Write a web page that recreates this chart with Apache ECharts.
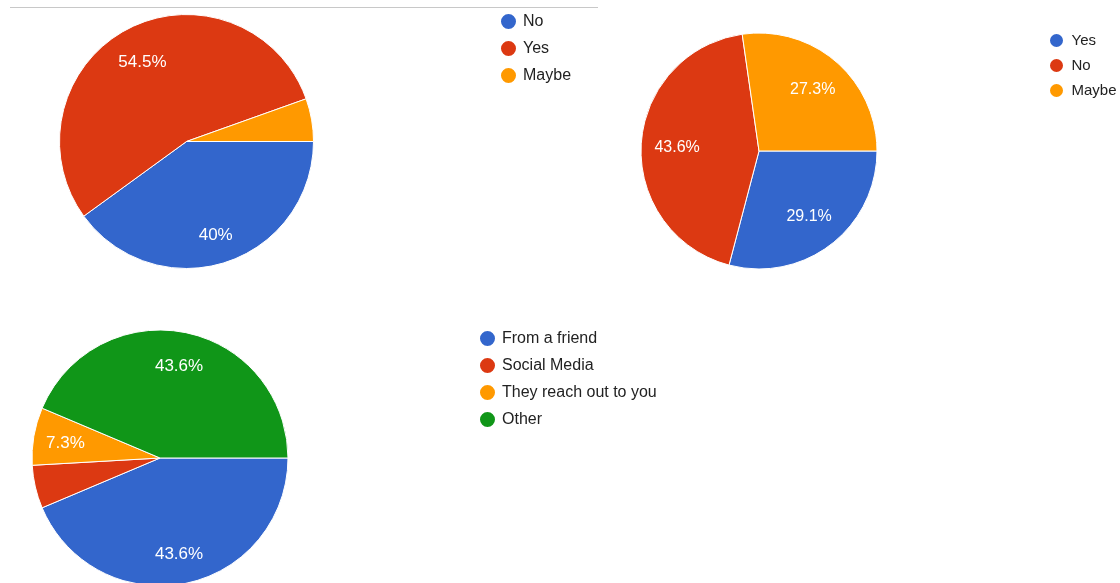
<!DOCTYPE html>
<html>
<head>
<meta charset="utf-8">
<title>Survey responses</title>
<script src="https://cdn.jsdelivr.net/npm/echarts@6/dist/echarts.min.js"></script>
<style>
  html, body { margin: 0; padding: 0; background: #fff; }
  #chart { width: 1120px; height: 583px; }
</style>
</head>
<body>
<div id="chart"></div>
<script>
// Response counts (55 respondents per question)
const q1Names = ['No', 'Yes', 'Maybe'];
const q1Values = [22, 30, 3];

const q2Names = ['Yes', 'No', 'Maybe'];
const q2Values = [16, 24, 15];

const q3Names = ['From a friend', 'Social Media', 'They reach out to you', 'Other'];
const q3Values = [24, 3, 4, 24];

// Slice colours, in slice order
const q1Colors = ['#3366cc', '#dc3912', '#ff9900'];
const q2Colors = ['#3366cc', '#dc3912', '#ff9900'];
const q3Colors = ['#3366cc', '#dc3912', '#ff9900', '#109618'];

const FONT = 'Arial, "Liberation Sans", Helvetica, sans-serif';

// A full pie plus a transparent ring on top that carries the percentage labels,
// so the labels sit further out than the half-radius an inside label would use.
function pieSeries(names, values, colors, center, r, ring, fontSize, labelOffset) {
  const data = names.map((n, i) => ({ name: n, value: values[i], itemStyle: { color: colors[i] } }));
  const labelData = names.map((n, i) => ({ name: n, value: values[i] }));
  return [
    {
      type: 'pie',
      center: center,
      radius: [0, r],
      startAngle: 0,
      clockwise: true,
      animation: false,
      avoidLabelOverlap: false,
      label: { show: false },
      labelLine: { show: false },
      emphasis: { disabled: true },
      itemStyle: { borderColor: '#ffffff', borderWidth: 1 },
      data: data
    },
    {
      type: 'pie',
      center: center,
      radius: ring,
      startAngle: 0,
      clockwise: true,
      animation: false,
      silent: true,
      legendHoverLink: false,
      avoidLabelOverlap: false,
      percentPrecision: 1,
      emphasis: { disabled: true },
      itemStyle: { color: 'rgba(0,0,0,0)', borderWidth: 0 },
      labelLine: { show: false },
      label: {
        show: true,
        position: 'inside',
        offset: labelOffset,
        color: '#ffffff',
        fontFamily: FONT,
        fontSize: fontSize,
        // small slices stay unlabelled
        formatter: p => (p.percent < 6 ? '' : p.percent + '%')
      },
      data: labelData
    }
  ];
}

function legendFor(names, colors, left, top, fontSize, gap, iconW, iconH) {
  return {
    orient: 'vertical',
    left: left,
    top: top,
    padding: 0,
    itemGap: gap,
    itemWidth: iconW,
    itemHeight: iconH,
    icon: 'circle',
    selectedMode: false,
    textStyle: { fontFamily: FONT, fontSize: fontSize, lineHeight: fontSize, color: '#222222' },
    data: names.map((n, i) => ({ name: n, itemStyle: { color: colors[i] } }))
  };
}

const chart = echarts.init(document.getElementById('chart'), null, { renderer: 'canvas' });

chart.setOption({
  backgroundColor: '#ffffff',
  animation: false,
  graphic: [
    {
      type: 'line',
      shape: { x1: 10, y1: 7.5, x2: 598, y2: 7.5 },
      style: { stroke: '#c8c8c8', lineWidth: 1 },
      silent: true
    }
  ],
  legend: [
    legendFor(q1Names, q1Colors, 499, 12, 16, 8, 19, 17),
    legendFor(q2Names, q2Colors, 1048, 32, 15, 8, 20, 15),
    legendFor(q3Names, q3Colors, 478, 329, 16, 8, 19, 17)
  ],
  series: [
    ...pieSeries(q1Names, q1Values, q1Colors, [186.5, 141.5], 127, [56, 127], 17, [0, 4]),
    ...pieSeries(q2Names, q2Values, q2Colors, [759, 151], 118, [40, 118], 16, [0, 1]),
    ...pieSeries(q3Names, q3Values, q3Colors, [160, 458], 128, [58, 128], 17, [0, 2])
  ]
});
</script>
</body>
</html>
